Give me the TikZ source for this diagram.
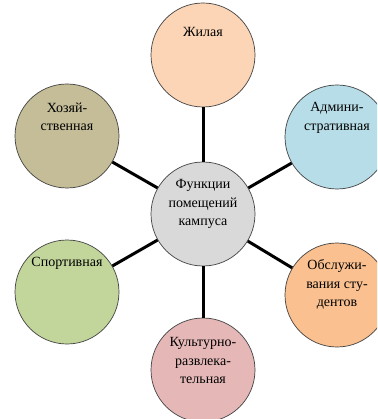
\documentclass[tikz,border=0pt]{standalone}
\usepackage{fontspec}
\setmainfont{Liberation Serif}
\usepackage{tikz}
\usetikzlibrary{positioning}
\definecolor{funccol}{RGB}{217,217,217}
\definecolor{zhilcol}{RGB}{251,213,181}
\definecolor{hozcol}{RGB}{196,189,151}
\definecolor{admcol}{RGB}{183,221,232}
\definecolor{sportcol}{RGB}{194,214,155}
\definecolor{obslcol}{RGB}{250,192,143}
\definecolor{kultcol}{RGB}{229,184,183}
\tikzset{
bubble/.style={shape=circle, minimum size=104pt, inner sep=0, draw=black!75, line width=0.7pt}, caption/.style={align=center, inner sep=0, anchor=north, font=\fontsize{14}{18.5}\selectfont}, spoke/.style={line width=3pt, black}}

\begin{document}
\begin{tikzpicture}[x=1pt, y=-1pt]
\useasboundingbox (0,0) rectangle (377,419);
\clip (0,0) rectangle (377,419);
\node [bubble, fill=funccol] at (203, 214) (func) {};
\node [caption] at (203, 214-25-9.5) (func-t) {Функции\\помещений\\кампуса};
\foreach \nm/\cx/\cy/\col/\dy/\txt in {
  zhil/203/55/zhilcol/18/{Жилая},
  hoz/67/136/hozcol/24/{Хозяй-\\ственная},
  adm/337/137/admcol/25/{Админи-\\стративная},
  sport/67/292/sportcol/25/{Спортивная},
  obsl/337/295/obslcol/26/{Обслужи-\\вания сту-\\дентов},
  kult/203/370/kultcol/23/{Культурно-\\развлека-\\тельная}}{
      \node [bubble, fill=\col] at (\cx, \cy) (\nm) {};
      \node [caption] at (\cx, \cy-\dy-9.5) (\nm-t) {\txt};
      \draw [spoke] (func) -- (\nm);
}
\end{tikzpicture}
\end{document}
